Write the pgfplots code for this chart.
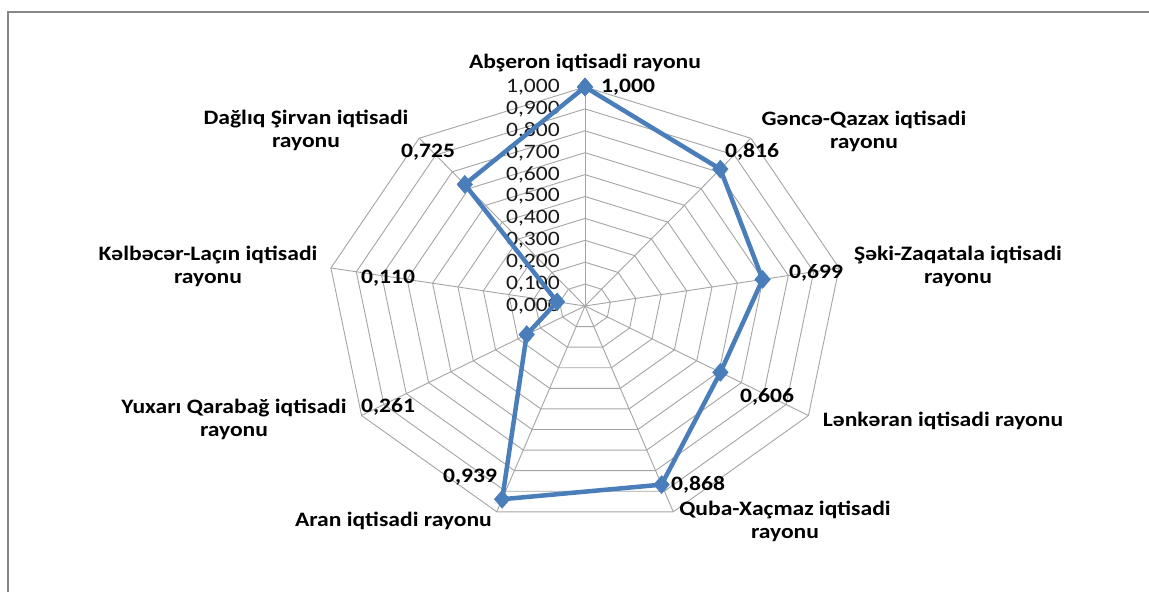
\documentclass[border=0pt]{standalone}
\usepackage{pgfplots}
\pgfplotsset{compat=1.18}
\usepackage{fontspec}
\setmainfont{Carlito}[FakeStretch=1.15]
\definecolor{ser}{RGB}{74,126,187}
\definecolor{grd}{RGB}{165,165,165}
\definecolor{frm}{RGB}{135,135,135}
\begin{document}
\begin{tikzpicture}[x=1pt,y=1pt]
\useasboundingbox (0,0) rectangle (1149,-592);
\fill[white] (0,0) rectangle (1149,-592);
\draw[frm, line width=1.8pt] (8,-592) -- (8,-12) -- (1149,-12);
\begin{axis}[at={(585pt,-306pt)}, anchor=origin, x=258pt, y=219pt,
  xmin=-1.05, xmax=1.05, ymin=-1.05, ymax=1.05,
  hide axis, clip=false]
% rings
\pgfplotsinvokeforeach{0.1,0.2,0.3,0.4,0.5,0.6,0.7,0.8,0.9,1.0}{
  \addplot[grd, line width=0.9pt, data cs=polar, mark=none] coordinates {(90,#1) (50,#1) (10,#1) (-30,#1) (-70,#1) (-110,#1) (-150,#1) (170,#1) (130,#1) (90,#1)};
}
% spokes
\pgfplotsinvokeforeach{90,50,10,-30,-70,-110,-150,170,130}{
  \addplot[grd, line width=0.9pt, data cs=polar, mark=none] coordinates {(#1,0) (#1,1)};
}
% tick labels
\begin{scope}[font=\fontsize{20.5}{23}\selectfont, text=black!90]
\node[anchor=east, inner sep=0pt] at (axis cs:-0.097,0.0) {0,000};
\node[anchor=east, inner sep=0pt] at (axis cs:-0.097,0.1) {0,100};
\node[anchor=east, inner sep=0pt] at (axis cs:-0.097,0.2) {0,200};
\node[anchor=east, inner sep=0pt] at (axis cs:-0.097,0.3) {0,300};
\node[anchor=east, inner sep=0pt] at (axis cs:-0.097,0.4) {0,400};
\node[anchor=east, inner sep=0pt] at (axis cs:-0.097,0.5) {0,500};
\node[anchor=east, inner sep=0pt] at (axis cs:-0.097,0.6) {0,600};
\node[anchor=east, inner sep=0pt] at (axis cs:-0.097,0.7) {0,700};
\node[anchor=east, inner sep=0pt] at (axis cs:-0.097,0.8) {0,800};
\node[anchor=east, inner sep=0pt] at (axis cs:-0.097,0.9) {0,900};
\node[anchor=east, inner sep=0pt] at (axis cs:-0.097,1.0) {1,000};
\end{scope}
% series
\addplot[ser, line width=4.5pt, data cs=polar, mark=diamond*, mark size=9pt,
  mark options={solid, fill=ser, draw=ser, line width=0.5pt, xscale=1.15}]
  coordinates {(90,1.000) (50,0.816) (10,0.699) (-30,0.606) (-70,0.868) (-110,0.939) (-150,0.261) (170,0.110) (130,0.725) (90,1.000)};
\end{axis}
\begin{scope}[font=\fontsize{20.5}{23}\selectfont\bfseries, align=center, inner sep=0pt]
\node at (585,-63) {Abşeron iqtisadi rayonu};
\node at (864,-131) {Gəncə-Qazax iqtisadi\\rayonu};
\node at (958,-266) {Şəki-Zaqatala iqtisadi\\rayonu};
\node at (943,-421) {Lənkəran iqtisadi rayonu};
\node at (785,-521) {Quba-Xaçmaz iqtisadi\\rayonu};
\node[anchor=east] at (492,-521) {Aran iqtisadi rayonu};
\node at (234,-419) {Yuxarı Qarabağ iqtisadi\\rayonu};
\node at (208,-266) {Kəlbəcər-Laçın iqtisadi\\rayonu};
\node at (306,-130) {Dağlıq Şirvan iqtisadi\\rayonu};
% values
\node at (628,-87) {1,000};
\node at (752,-152) {0,816};
\node at (816,-273) {0,699};
\node at (767,-397) {0,606};
\node at (698,-485) {0,868};
\node at (470,-477) {0,939};
\node at (388,-407) {0,261};
\node at (388,-278) {0,110};
\node at (428,-152) {0,725};
\end{scope}
\end{tikzpicture}
\end{document}
